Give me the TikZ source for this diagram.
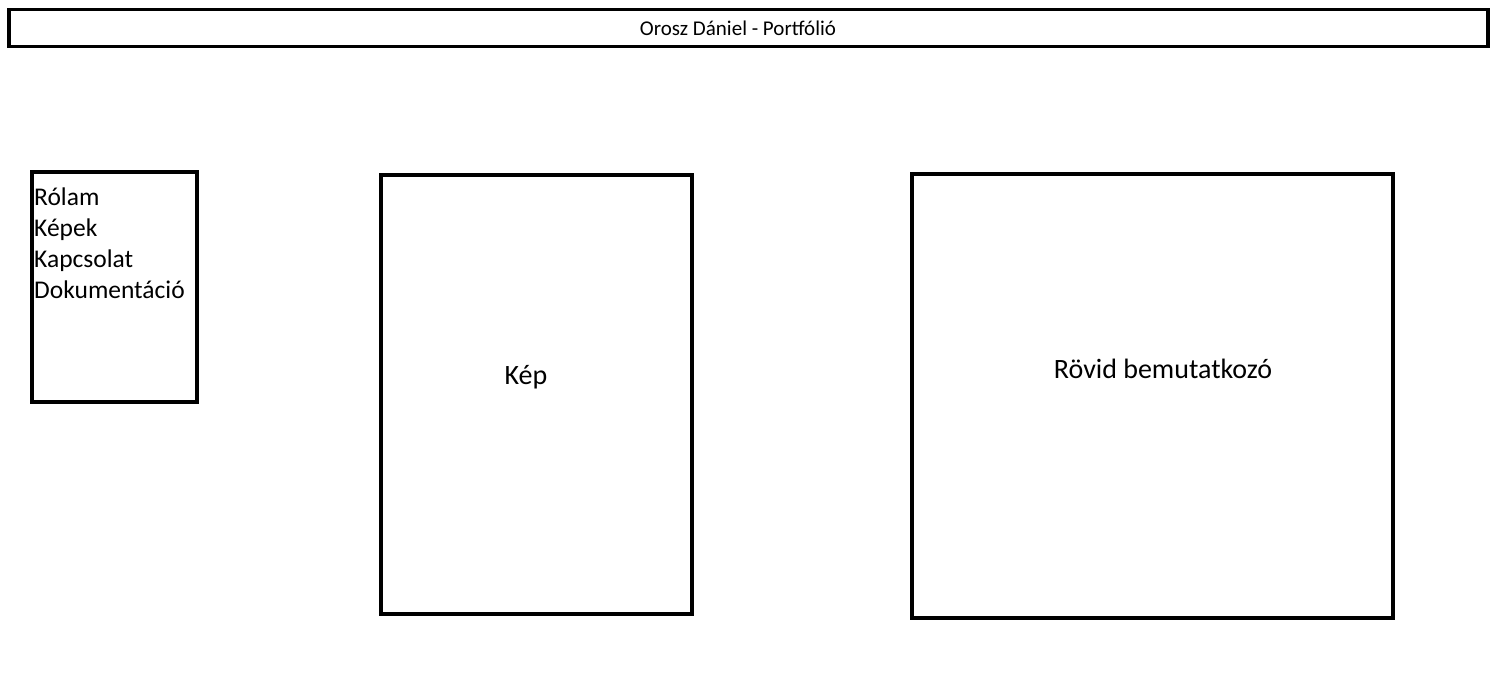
\documentclass[tikz,border=0pt]{standalone}
\usepackage{fontspec}
\setmainfont{Carlito}
\begin{document}
\begin{tikzpicture}[x=1pt,y=-1pt,
  frame/.style={draw=black,line width=3.6pt,fill=white},
  lbl/.style={font=\fontsize{28}{34}\selectfont,inner sep=0pt}]
\useasboundingbox (0,0) rectangle (1500,681);
\draw[frame] (9,9.5) rectangle (1488,46.5);
\node[font=\fontsize{21}{24}\selectfont,inner sep=0pt] (title) at (738,28) {Orosz Dániel - Portfólió};
\draw[frame] (32,172) rectangle (197,402);
\node[font=\fontsize{25.5}{31}\selectfont,inner sep=0pt,anchor=north west,align=left] (menu) at (34,188) {Rólam\\Képek\\Kapcsolat\\Dokumentáció};
\draw[frame] (381,175) rectangle (692,614);
\node[lbl] (kep) at (526,377) {Kép};
\draw[frame] (912,174) rectangle (1393,618);
\node[lbl] (rovid) at (1163,369) {Rövid bemutatkozó};
\end{tikzpicture}
\end{document}
